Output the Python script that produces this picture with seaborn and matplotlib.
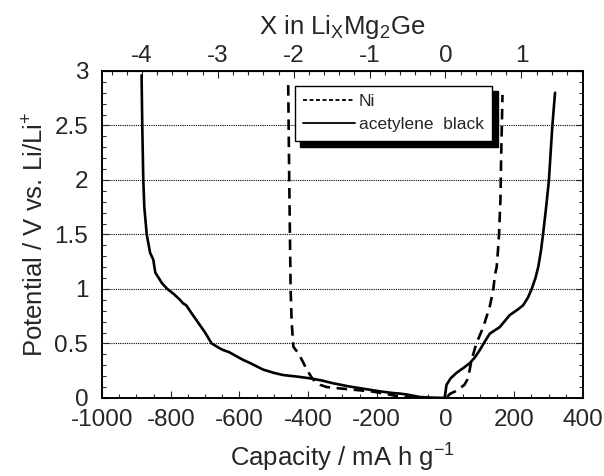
import numpy as np
import pandas as pd
import matplotlib
matplotlib.use("Agg")
import matplotlib.pyplot as plt
from matplotlib.ticker import MultipleLocator, FuncFormatter
from matplotlib.lines import Line2D
import seaborn as sns

# acetylene black electrode (solid line)
ab_dis_cap = [-885, -883, -880, -877, -870, -860, -851, -845, -825, -810, -790, -773, -765, -755,
              -740, -720, -700, -681, -660, -648, -630, -613, -590, -569, -531, -500, -473,
              -430, -395, -360, -328, -280, -230, -190, -153, -133, -110, -74, -40, 0]
ab_dis_v = [2.96, 2.5, 2.0, 1.75, 1.5, 1.33, 1.27, 1.15, 1.05, 1.0, 0.95, 0.9, 0.87, 0.85,
            0.78, 0.69, 0.6, 0.5, 0.46, 0.44, 0.42, 0.39, 0.35, 0.32, 0.26, 0.23, 0.21,
            0.195, 0.18, 0.16, 0.135, 0.105, 0.08, 0.06, 0.045, 0.04, 0.03, 0.008, 0.003, 0.0]
ab_chg_cap = [0, -2, 3, 15, 32, 50, 71, 85, 100, 115, 129, 158, 187, 210, 226, 240, 251,
              262, 270, 278, 284, 292, 301, 311, 319]
ab_chg_v = [0.0, 0.01, 0.12, 0.18, 0.23, 0.27, 0.32, 0.37, 0.44, 0.52, 0.59, 0.65, 0.76, 0.81,
            0.85, 0.92, 1.0, 1.1, 1.2, 1.35, 1.5, 1.72, 1.99, 2.49, 2.8]

# Ni electrode (dashed line)
ni_dis_cap = [-458, -455, -451, -448, -443, -436, -430, -415, -404, -390, -380, -365, -346,
              -300, -250, -211, -170, -133, -90, -50]
ni_dis_v = [2.87, 2.0, 1.0, 0.7, 0.47, 0.44, 0.42, 0.33, 0.26, 0.19, 0.15, 0.12, 0.1,
            0.085, 0.07, 0.058, 0.035, 0.012, 0.004, 0.0]
ni_chg_cap = [5, 13, 28, 42, 55, 63, 70, 76, 90, 110, 129, 139, 144, 149, 153, 156, 160, 162, 166]
ni_chg_v = [0.01, 0.037, 0.06, 0.09, 0.12, 0.165, 0.25, 0.35, 0.5, 0.65, 0.84, 0.99, 1.13,
            1.2, 1.36, 1.51, 1.82, 2.2, 2.78]

cap_per_li = 221.0  # mA h g-1 per Li in Mg2Ge

sns.set_style("ticks")
plt.rcParams["font.family"] = ["Liberation Sans", "DejaVu Sans"]
plt.rcParams["mathtext.fontset"] = "custom"
plt.rcParams["mathtext.rm"] = "Liberation Sans"
plt.rcParams["mathtext.it"] = "Liberation Sans"
plt.rcParams["axes.unicode_minus"] = False

fs_tick = 17.5
fs_label = 18.5

fig, ax = plt.subplots(figsize=(6.04, 4.76), dpi=100)
fig.subplots_adjust(left=0.169, right=0.965, top=0.851, bottom=0.164)

curves = [
    (ab_dis_cap, ab_dis_v, "-"),
    (ab_chg_cap, ab_chg_v, "-"),
    (ni_dis_cap, ni_dis_v, "--"),
    (ni_chg_cap, ni_chg_v, "--"),
]
for cap, v, ls in curves:
    df = pd.DataFrame({"cap": cap, "v": v})
    sns.lineplot(data=df, x="cap", y="v", sort=False, estimator=None, color="black",
                 linestyle=ls, linewidth=1.9, ax=ax)
for line in ax.get_lines()[2:]:
    line.set_dashes((4, 2.5))

ax.set_xlim(-1000, 400)
ax.set_ylim(0, 3)
ax.xaxis.set_major_locator(MultipleLocator(200))
ax.xaxis.set_minor_locator(MultipleLocator(50))
ax.yaxis.set_major_locator(MultipleLocator(0.5))
ax.yaxis.set_minor_locator(MultipleLocator(0.1))
ax.yaxis.set_major_formatter(FuncFormatter(lambda v, p: f"{v:g}"))
ax.tick_params(which="both", direction="in", right=True, labelsize=fs_tick, width=0.8)
ax.tick_params(which="major", length=5)
ax.tick_params(which="minor", length=3)
ax.tick_params(axis="x", pad=8)
ax.tick_params(axis="y", pad=10)
ax.yaxis.grid(True, which="major", linestyle=(0, (1, 1)), color="black", linewidth=0.8)
for s in ax.spines.values():
    s.set_linewidth(1.4)
    s.set_color("black")

ax.set_xlabel("Capacity / mA h g$^{-1}$", fontsize=fs_label, labelpad=8)
ax.set_ylabel("Potential / V vs. Li/Li$^{+}$", fontsize=fs_label, labelpad=4)

top = ax.secondary_xaxis("top", functions=(lambda c: c / cap_per_li, lambda x: x * cap_per_li))
top.xaxis.set_major_locator(MultipleLocator(1))
top.xaxis.set_minor_locator(MultipleLocator(0.2))
top.tick_params(which="both", direction="in", labelsize=fs_tick, width=0.8, pad=3)
top.tick_params(which="major", length=5)
top.tick_params(which="minor", length=3)
top.set_xlabel("X in Li$_{X}$Mg$_{2}$Ge", fontsize=fs_label, labelpad=8)

handles = [Line2D([], [], color="black", linestyle="--", dashes=(2.2, 1.4), linewidth=1.3),
           Line2D([], [], color="black", linestyle="-", linewidth=1.3)]
leg = ax.legend(handles, ["Ni", "acetylene  black"], loc="upper right",
                bbox_to_anchor=(0.812, 0.955), fontsize=12.5, frameon=True, fancybox=False,
                shadow={"color": "black", "alpha": 1, "ox": 4, "oy": -4},
                handlelength=3.0, handletextpad=0.2, borderpad=0.5, labelspacing=0.45,
                borderaxespad=0)
leg.get_frame().set_edgecolor("black")
leg.get_frame().set_linewidth(1.0)

fig.savefig("out.png", dpi=100)
